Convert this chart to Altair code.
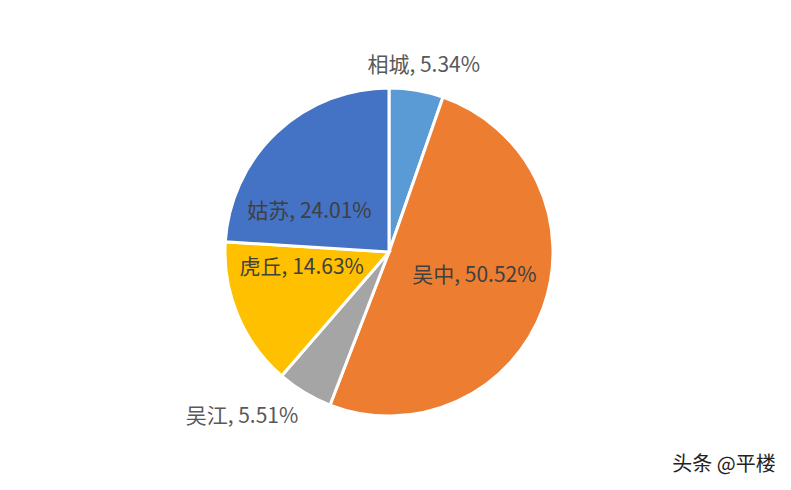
import altair as alt
import pandas as pd

# shares of each district, clockwise from 12 o'clock
districts = ['相城', '吴中', '吴江', '虎丘', '姑苏']
shares = [5.34, 50.52, 5.51, 14.63, 24.01]
colors = ['#5B9BD5', '#ED7D31', '#A5A5A5', '#FFC000', '#4472C4']

total = sum(shares)
df = pd.DataFrame({
    'district': districts,
    'share': shares,
    'idx': range(len(districts)),
})
df['label'] = [f'{d}, {s:.2f}%' for d, s in zip(districts, shares)]

CX, CY = 381, 244
R = 164
FONT = 'Noto Sans CJK SC'

theta_scale = alt.Scale(domain=[0, total])

base = alt.Chart(df).transform_window(
    end='sum(share)',
    frame=[None, 0],
    sort=[{'field': 'idx'}],
).transform_calculate(
    start='datum.end - datum.share',
    mid='datum.end - datum.share / 2',
)

pie = base.mark_arc(radius=R, stroke='white', strokeWidth=3).encode(
    theta=alt.Theta('start:Q', scale=theta_scale),
    theta2='end:Q',
    x=alt.value(CX),
    y=alt.value(CY),
    color=alt.Color('district:N',
        scale=alt.Scale(domain=districts, range=colors),
        legend=None),
)

# label placement: radius from centre plus a small nudge, like Excel's best fit
label_pos = {
    '相城': (190, 3, 1, '#595959'),
    '吴中': (92, -1, -8, '#404040'),
    '吴江': (200, -44, -6, '#595959'),
    '虎丘': (100, 5, -23, '#404040'),
    '姑苏': (100, -11, 33, '#404040'),
}

labels = []
for name, (rad, ddx, ddy, col) in label_pos.items():
    labels.append(
        base.transform_filter(alt.datum.district == name).mark_text(
            radius=rad, dx=ddx, dy=ddy, font=FONT, fontSize=21,
            color=col, align='center', baseline='middle',
        ).encode(
            theta=alt.Theta('mid:Q', scale=theta_scale),
            x=alt.value(CX),
            y=alt.value(CY),
            text='label:N',
        )
    )

mark_text = alt.Chart(pd.DataFrame({'t': ['头条 @平楼']})).mark_text(
    font=FONT, fontSize=20, color='#222222', align='center', baseline='middle'
).encode(
    x=alt.value(716),
    y=alt.value(457),
    text='t:N',
)

chart = alt.layer(pie, *labels, mark_text).properties(
    width=775,
    height=474,
    padding=0,
).configure_view(stroke=None)

chart.save("out.html", embed_options={"renderer": "svg", "actions": False})
